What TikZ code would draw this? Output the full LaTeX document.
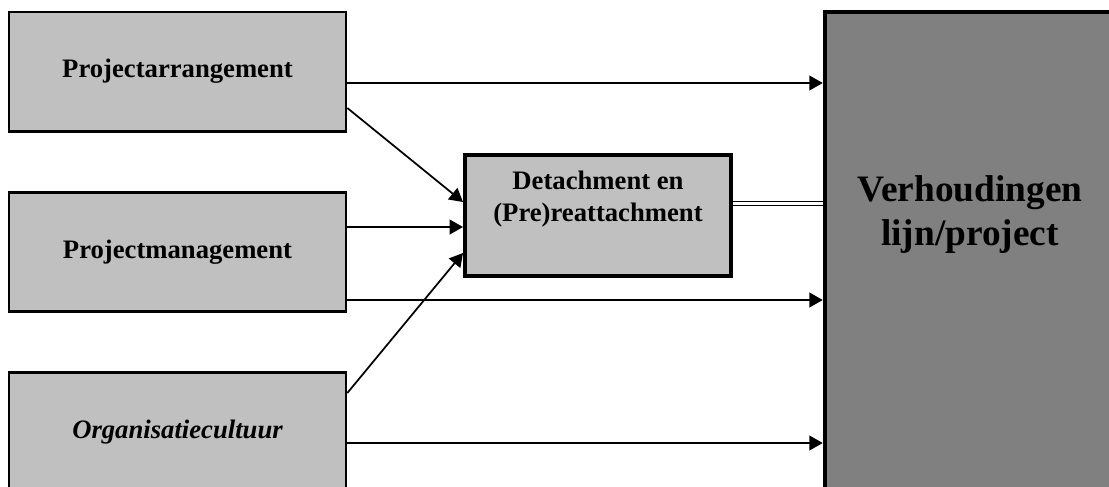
\documentclass[tikz,border=0pt]{standalone}
\usepackage{fontspec}
\setmainfont{Liberation Serif}
\usetikzlibrary{arrows.meta}
\definecolor{boxgray}{HTML}{C0C0C0}
\definecolor{darkgray}{HTML}{808080}
\tikzset{
  factor/.style={draw=black, fill=boxgray, line width=2pt, minimum width=252.75pt,
    minimum height=89.5pt, inner sep=0pt, font=\fontsize{20}{24}\selectfont\bfseries},
  midbox/.style={draw=black, fill=boxgray, line width=3pt, minimum width=199.5pt,
    minimum height=90.75pt, inner sep=0pt},
  bigbox/.style={draw=black, fill=darkgray, line width=3.4pt, minimum width=221.25pt,
    minimum height=366pt, inner sep=0pt},
  lbl/.style={align=center, inner sep=0pt},
  arr/.style={line width=1.3pt, -{Triangle[length=10pt, width=11pt]}},
  dbl/.style={double, line width=0.75pt, double distance=2.4pt}
}
\begin{document}
\begin{tikzpicture}[x=0.75pt, y=-0.75pt]
  \useasboundingbox (0,0) rectangle (1109,486);
  \clip (0,0) rectangle (1109,486);

  % influencing factors on the left
  \node[factor] (p1) at (177.5,71.5) {Projectarrangement};
  \node[factor] (p2) at (177.5,252) {Projectmanagement};
  \node[factor, font=\fontsize{20}{24}\selectfont\bfseries\itshape] (p3) at (177.5,432) {Organisatiecultuur};

  % intermediate process
  \node[midbox] (mid) at (598,215.5) {};
  \node[lbl, font=\fontsize{20}{24}\selectfont\bfseries] (midtext) at (598,199)
    {Detachment en\\(Pre)reattachment};

  % outcome
  \node[bigbox] (big) at (972.5,256) {};
  \node[lbl, font=\fontsize{28}{33}\selectfont\bfseries] (bigtext) at (970,215)
    {Verhoudingen\\lijn/project};

  % connectors
  \draw[arr] (p1.east |- 0,83) -- (big.west |- 0,83);
  \draw[arr] (p1.east |- 0,108) -- (mid.west |- 0,202);
  \draw[arr] (p2.east |- 0,227) -- (mid.west |- 0,227);
  \draw[arr] (p2.east |- 0,300) -- (big.west |- 0,300);
  \draw[arr] (p3.east |- 0,393) -- (mid.west |- 0,253);
  \draw[arr] (p3.east |- 0,443) -- (big.west |- 0,443);
  \draw[dbl] (mid.east |- 0,203.5) -- (big.west |- 0,203.5);
\end{tikzpicture}
\end{document}
